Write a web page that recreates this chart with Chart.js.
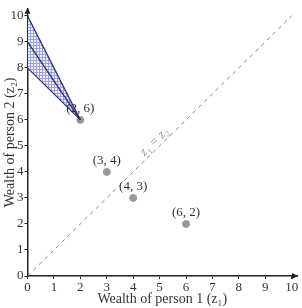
<!DOCTYPE html>
<html><head><meta charset="utf-8">
<script src="https://cdn.jsdelivr.net/npm/chart.js@4/dist/chart.umd.min.js"></script>
<style>html,body{margin:0;padding:0;background:#fff}#wrap{width:302px;height:308px}</style>
</head><body><div id="wrap"><canvas id="c" width="302" height="308"></canvas></div>
<script>
const xTicks = [0,1,2,3,4,5,6,7,8,9,10];
const yTicks = [0,1,2,3,4,5,6,7,8,9,10];
const allocations = [{x:2,y:6},{x:3,y:4},{x:4,y:3},{x:6,y:2}];
const allocationLabels = ['(2, 6)','(3, 4)','(4, 3)','(6, 2)'];
const equalityLine = [{x:0,y:0},{x:10,y:10}];
const upperEdge = [{x:0,y:10},{x:2,y:6}];
const lowerEdge = [{x:0,y:8},{x:2,y:6}];
const middleEdge = [{x:0,y:9},{x:2,y:6}];
const equalityLabel = {x:4.8, y:5.15, text:'z₁ = z₂'};

function makePattern(){
  const p=document.createElement('canvas'); p.width=3; p.height=3;
  const g=p.getContext('2d');
  g.fillStyle='#f1f2fb'; g.fillRect(0,0,3,3);
  g.fillStyle='#9aa2e0'; g.fillRect(0,0,3,1); g.fillRect(0,0,1,3);
  return document.getElementById('c').getContext('2d').createPattern(p,'repeat');
}
const navy='#2a2e70';
const serif='"Liberation Serif", "DejaVu Serif", serif';

const overlay={
  id:'overlay',
  afterDatasetsDraw(chart){
    const {ctx,scales:{x,y}}=chart;
    ctx.save();
    ctx.fillStyle='#333';
    ctx.font='13px '+serif;
    ctx.textAlign='center'; ctx.textBaseline='middle';
    allocations.forEach((p,i)=>{
      ctx.fillText(allocationLabels[i], x.getPixelForValue(p.x), y.getPixelForValue(p.y)-11);
    });
    ctx.translate(x.getPixelForValue(equalityLabel.x), y.getPixelForValue(equalityLabel.y));
    ctx.rotate(-Math.PI/4);
    ctx.fillStyle='#9a9a9a';
    ctx.font='italic 13px '+serif;
    ctx.fillText(equalityLabel.text,0,0);
    ctx.restore();
    // arrows
    ctx.save();
    ctx.fillStyle='#222';
    const x0=x.left, yb=y.bottom;
    ctx.beginPath();
    ctx.moveTo(x.right+1,yb); ctx.lineTo(x.right-5,yb-3); ctx.lineTo(x.right-5,yb+3); ctx.closePath(); ctx.fill();
    ctx.beginPath();
    ctx.moveTo(x0,y.top-1); ctx.lineTo(x0-3,y.top+5); ctx.lineTo(x0+3,y.top+5); ctx.closePath(); ctx.fill();
    ctx.restore();
  }
};

new Chart(document.getElementById('c'),{
  type:'scatter',
  data:{datasets:[
    {data:equalityLine, showLine:true, borderColor:'#8a8a8a', borderWidth:1, borderDash:[4,4], pointRadius:0, fill:false},
    {data:upperEdge, showLine:true, borderColor:navy, borderWidth:1.2, pointRadius:0, fill:{target:2}, backgroundColor:makePattern()},
    {data:lowerEdge, showLine:true, borderColor:navy, borderWidth:1.2, pointRadius:0, fill:false},
    {data:middleEdge, showLine:true, borderColor:navy, borderWidth:1.3, pointRadius:0, fill:false},
    {data:allocations, pointRadius:3.5, pointBackgroundColor:'#999', pointBorderColor:'#999', showLine:false}
  ]},
  options:{
    responsive:false, animation:false, events:[],
    layout:{padding:{left:0,right:4,top:5,bottom:0}},
    plugins:{legend:{display:false},tooltip:{enabled:false},filler:{drawTime:'beforeDatasetsDraw'}},
    scales:{
      x:{type:'linear',min:0,max:10.2,
        afterBuildTicks(s){s.ticks=xTicks.map(v=>({value:v}));},
        afterFit(s){s.height=32;},
        grid:{drawOnChartArea:false,drawTicks:true,tickLength:3,color:'#222'},
        border:{color:'#222',width:1.5},
        ticks:{color:'#333',font:{family:serif,size:13},padding:1,maxRotation:0,autoSkip:false},
        title:{display:true,text:'Wealth of person 1 (z₁)',color:'#333',font:{family:serif,size:14},padding:{top:0,bottom:0}}
      },
      y:{type:'linear',min:0,max:10.27,
        afterBuildTicks(s){s.ticks=yTicks.map(v=>({value:v}));},
        afterFit(s){s.width=27.5;},
        grid:{drawOnChartArea:false,drawTicks:true,tickLength:3,color:'#222'},
        border:{color:'#222',width:1.5},
        ticks:{color:'#333',font:{family:serif,size:13},padding:1,autoSkip:false},
        title:{display:true,text:'Wealth of person 2 (z₂)',color:'#333',font:{family:serif,size:14},padding:{top:2,bottom:0}}
      }
    }
  },
  plugins:[overlay]
});
</script></body></html>
